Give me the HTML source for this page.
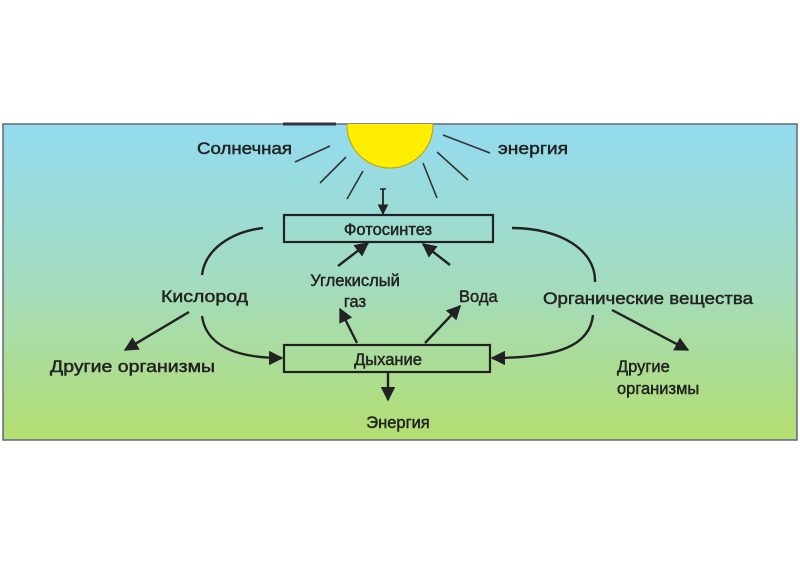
<!DOCTYPE html>
<html><head><meta charset="utf-8"><style>
html,body{margin:0;padding:0;background:#fff;}
svg{display:block;}
text{font-family:"Liberation Sans","DejaVu Sans",sans-serif;fill:#222;font-size:16.5px;stroke:#222;stroke-width:0.45;}
</style></head><body>
<svg width="800" height="566" viewBox="0 0 800 566" xmlns="http://www.w3.org/2000/svg">
<defs>
<linearGradient id="g" x1="0" y1="0" x2="0" y2="1">
<stop offset="0" stop-color="#93dbf0"/>
<stop offset="0.5" stop-color="#a3dcc0"/>
<stop offset="1" stop-color="#b3de70"/>
</linearGradient>
<marker id="a" viewBox="0 0 10 10" refX="9" refY="5" markerWidth="6" markerHeight="6" orient="auto"><path d="M0,0 L10,5 L0,10 z" fill="#222"/></marker>
<clipPath id="c"><rect x="3" y="124" width="794" height="316"/></clipPath>
</defs>
<rect x="3" y="124" width="794" height="316" fill="url(#g)" stroke="#667" stroke-width="1.5"/>
<line x1="283" y1="124" x2="336" y2="124" stroke="#334" stroke-width="3"/>
<circle cx="390" cy="125" r="43" fill="#ffee00" stroke="#bba000" stroke-width="1" clip-path="url(#c)"/>
<g stroke="#333" stroke-width="1.6">
<line x1="295" y1="162" x2="330" y2="146"/>
<line x1="320" y1="183" x2="346" y2="157"/>
<line x1="347" y1="199" x2="363" y2="171"/>
<line x1="443" y1="135" x2="490" y2="153"/>
<line x1="437" y1="152" x2="468" y2="180"/>
<line x1="423" y1="163" x2="437" y2="198"/>
</g>
<text x="197" y="154" textLength="95" lengthAdjust="spacingAndGlyphs">Солнечная</text>
<text x="498" y="154" textLength="70" lengthAdjust="spacingAndGlyphs">энергия</text>
<line x1="380" y1="189" x2="386" y2="189" stroke="#222" stroke-width="1.5"/>
<line x1="383" y1="189" x2="383" y2="214" stroke="#222" stroke-width="1.8" marker-end="url(#a)"/>
<rect x="284" y="215" width="209" height="27" fill="none" stroke="#222" stroke-width="2.2"/>
<text x="388" y="235" text-anchor="middle">Фотосинтез</text>
<rect x="284" y="345" width="206" height="27" fill="none" stroke="#222" stroke-width="2.2"/>
<text x="388" y="365" text-anchor="middle">Дыхание</text>
<g fill="none" stroke="#222" stroke-width="2.4">
<path d="M263 228 C230 232 205 250 202 275"/>
<path d="M202 316 C206 345 235 358 282 358" marker-end="url(#a)"/>
<path d="M189 312 L125 350" marker-end="url(#a)"/>
<path d="M512 228 C560 228 596 250 595 282"/>
<path d="M593 315 C590 345 560 358 492 358" marker-end="url(#a)"/>
<path d="M612 310 L688 350" marker-end="url(#a)"/>
<path d="M338 266 L368 243" marker-end="url(#a)"/>
<path d="M450 265 L423 244" marker-end="url(#a)"/>
<path d="M357 343 L340 309" marker-end="url(#a)"/>
<path d="M425 343 L460 306" marker-end="url(#a)"/>
<path d="M388 373 L388 400" marker-end="url(#a)"/>
</g>
<text x="161" y="302" textLength="87" lengthAdjust="spacingAndGlyphs">Кислород</text>
<text x="355" y="286" text-anchor="middle">Углекислый</text>
<text x="355" y="307" text-anchor="middle">газ</text>
<text x="459" y="302">Вода</text>
<text x="543" y="304" textLength="210" lengthAdjust="spacingAndGlyphs">Органические вещества</text>
<text x="50" y="372" textLength="165" lengthAdjust="spacingAndGlyphs">Другие организмы</text>
<text x="617" y="372">Другие</text>
<text x="617" y="394">организмы</text>
<text x="398" y="428" text-anchor="middle">Энергия</text>
</svg>
</body></html>
